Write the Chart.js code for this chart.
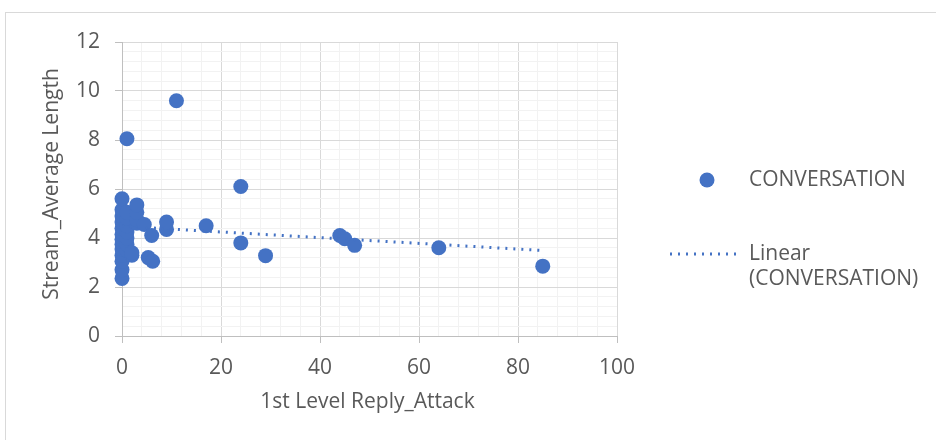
<!DOCTYPE html>
<html>
    <head>
        <title>Stream average length vs 1st level reply attack</title>
        <script src="https://cdn.jsdelivr.net/npm/chart.js@4.4.0/dist/chart.umd.min.js"></script>
        <style>
            body { margin: 0; background: #ffffff; }
            #wrap { position: relative; width: 936px; height: 440px; }
        </style>
    </head>
    <body>
        <div id="wrap">
            <canvas id="scatterChart" width="936" height="440"></canvas>
        </div>

        <script>
            //Data
            const seriesName = "CONVERSATION";
            const trendName = ["Linear", "(CONVERSATION)"];
            const xTitle = "1st Level Reply_Attack";
            const yTitle = "Stream_Average Length";

            const replyAttack = [
                0, 0, 0, 0, 0, 0, 0, 0, 0, 0, 0, 0, 0,
                1, 1, 1, 1, 1, 1, 1, 1,
                2, 2,
                3, 3, 3, 3,
                4.5, 5.3, 6, 6.2,
                9, 9, 11, 17,
                24, 24, 29,
                44, 45, 47, 64, 85
            ];
            const avgLength = [
                2.35, 2.7, 3.05, 3.3, 3.55, 3.75, 3.95, 4.15, 4.4, 4.65, 4.9, 5.15, 5.6,
                3.5, 3.75, 4.0, 4.25, 4.5, 4.8, 5.05, 8.05,
                3.3, 3.4,
                4.6, 4.75, 5.05, 5.35,
                4.55, 3.2, 4.1, 3.05,
                4.35, 4.65, 9.6, 4.5,
                6.1, 3.8, 3.28,
                4.1, 3.97, 3.7, 3.6, 2.85
            ];

            //Trendline end points
            const trendX = [0, 85];
            const trendY = [4.48, 3.49];

            //Axis ranges
            const xMax = 100, xMajor = 20, xMinor = 4;
            const yMax = 12, yMajor = 2, yMinor = 0.4;

            const blue = "#4472C4";
            const textGrey = "#595959";
            const fontFamily = "'Open Sans', 'Noto Sans', sans-serif";
            const fontSize = 21;

            function isMajor(v, step) {
                return Math.abs(v / step - Math.round(v / step)) < 1e-6;
            }

            const points = [];
            for (var i = 0; i < replyAttack.length; i++) {
                points.push({ x: replyAttack[i], y: avgLength[i] });
            }
            const trendPoints = [];
            for (var j = 0; j < trendX.length; j++) {
                trendPoints.push({ x: trendX[j], y: trendY[j] });
            }

            //Draws the outer frame, the axis titles and the legend on the right
            const frameAndLegend = {
                id: "frameAndLegend",
                afterDraw(chart) {
                    const ctx = chart.ctx;
                    const area = chart.chartArea;
                    ctx.save();
                    ctx.strokeStyle = "#d9d9d9";
                    ctx.lineWidth = 1;
                    ctx.strokeRect(5.5, 12.5, 1000, 1000);

                    ctx.fillStyle = textGrey;
                    ctx.font = fontSize + "px " + fontFamily;
                    ctx.textBaseline = "middle";
                    ctx.textAlign = "center";
                    ctx.fillText(xTitle, (area.left + area.right) / 2 - 2, 402);

                    ctx.save();
                    ctx.translate(52, 184);
                    ctx.rotate(-Math.PI / 2);
                    ctx.fillText(yTitle, 0, 0);
                    ctx.restore();

                    ctx.fillStyle = blue;
                    ctx.beginPath();
                    ctx.arc(707, 180, 7.5, 0, Math.PI * 2);
                    ctx.fill();

                    ctx.strokeStyle = blue;
                    ctx.lineWidth = 3;
                    ctx.setLineDash([2, 6]);
                    ctx.beginPath();
                    ctx.moveTo(670, 254);
                    ctx.lineTo(742, 254);
                    ctx.stroke();
                    ctx.setLineDash([]);

                    ctx.fillStyle = textGrey;
                    ctx.textAlign = "left";
                    ctx.fillText(seriesName, 749, 180);
                    ctx.fillText(trendName[0], 749, 254);
                    ctx.fillText(trendName[1], 749, 279);
                    ctx.restore();
                }
            };

            const config = {
                type: "scatter",
                data: {
                    datasets: [
                        {
                            label: seriesName,
                            data: points,
                            backgroundColor: blue,
                            borderWidth: 0,
                            pointRadius: 7.5,
                            pointHoverRadius: 7.5,
                            clip: false,
                            order: 2
                        },
                        {
                            label: trendName.join(" "),
                            type: "line",
                            data: trendPoints,
                            borderColor: blue,
                            borderWidth: 3,
                            borderDash: [2, 6],
                            pointRadius: 0,
                            fill: false,
                            clip: false,
                            order: 1
                        }
                    ]
                },
                options: {
                    responsive: false,
                    animation: false,
                    devicePixelRatio: 1,
                    layout: { padding: { left: 0, top: 42, right: 319, bottom: 0 } },
                    plugins: {
                        legend: { display: false },
                        tooltip: { enabled: false }
                    },
                    scales: {
                        x: {
                            type: "linear",
                            min: 0,
                            max: xMax,
                            afterFit(scale) { scale.height = 104; },
                            ticks: {
                                stepSize: xMinor,
                                autoSkip: false,
                                maxRotation: 0,
                                padding: 12,
                                color: textGrey,
                                font: { family: fontFamily, size: fontSize },
                                callback: function (v) { return isMajor(v, xMajor) ? String(v) : ""; }
                            },
                            grid: {
                                tickLength: 7,
                                color: function (c) { return isMajor(c.tick.value, xMajor) ? "#d9d9d9" : "#f2f2f2"; },
                                tickColor: function (c) { return isMajor(c.tick.value, xMajor) ? "#bfbfbf" : "rgba(0,0,0,0)"; }
                            },
                            border: { color: "#bfbfbf" }
                        },
                        y: {
                            type: "linear",
                            min: 0,
                            max: yMax,
                            afterFit(scale) { scale.width = 122; },
                            ticks: {
                                stepSize: yMinor,
                                autoSkip: false,
                                padding: 15,
                                color: textGrey,
                                font: { family: fontFamily, size: fontSize },
                                callback: function (v) { return isMajor(v, yMajor) ? String(Math.round(v)) : ""; }
                            },
                            grid: {
                                tickLength: 7,
                                color: function (c) { return isMajor(c.tick.value, yMajor) ? "#d9d9d9" : "#f2f2f2"; },
                                tickColor: function (c) { return isMajor(c.tick.value, yMajor) ? "#bfbfbf" : "rgba(0,0,0,0)"; }
                            },
                            border: { color: "#bfbfbf" }
                        }
                    }
                },
                plugins: [frameAndLegend]
            };

            new Chart(document.getElementById("scatterChart"), config);
        </script>
    </body>
</html>
